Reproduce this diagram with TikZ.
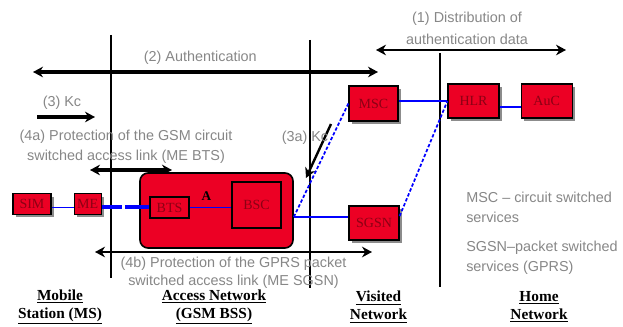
\documentclass[tikz,border=0pt]{standalone}
\usepackage{fontspec}
\setmainfont{Liberation Serif}
\setsansfont{Liberation Sans}
\usepackage{xcolor}
\usepackage{tikz}
\usetikzlibrary{positioning,arrows.meta,shadows,calc}
\definecolor{boxred}{RGB}{236,0,36}
\definecolor{boxtxt}{RGB}{140,0,20}
\definecolor{lblgray}{RGB}{135,135,135}
\definecolor{linkblue}{RGB}{0,0,255}
\tikzset{
  elem/.style={rectangle, draw=black, line width=0.9pt, fill=boxred, text=boxtxt,
    font=\fontsize{10.5}{12}\selectfont, inner sep=0pt},
  selem/.style={elem, drop shadow={shadow xshift=2.2pt, shadow yshift=-2.2pt, fill=black!45, opacity=1}},
  zone/.style={rectangle, rounded corners=6pt, draw=black, line width=1.2pt, fill=boxred, inner sep=0pt},
  lbl/.style={text=lblgray, font=\sffamily\fontsize{10.8}{15}\selectfont, align=center, inner sep=0pt},
  netname/.style={font=\bfseries\fontsize{11.5}{13.5}\selectfont, align=center, inner sep=0pt},
  % connectors
  bwire/.style={draw=linkblue, line width=1.1pt},
  bdash/.style={draw=linkblue, line width=1.3pt, dash pattern=on 2.5pt off 1.5pt},
  divline/.style={draw=black, line width=1.2pt},
  thickarr/.style={draw=black, line width=2.6pt},
  thinarr/.style={draw=black, line width=1.8pt},
}
\begin{document}
\begin{tikzpicture}[x=0.75pt, y=-0.75pt, >={Stealth[length=7.5pt,width=8pt]}]
\path[fill=white, use as bounding box] (0,0) rectangle (623,327);
\coordinate (v1t) at (111,35);  \coordinate (v1b) at (111,278);
\coordinate (v2t) at (310,40);  \coordinate (v2b) at (310,288);
\coordinate (v3t) at (440,53);  \coordinate (v3b) at (440,287);
\draw[divline] (v1t) -- (v1b);
\draw[divline] (v2t) -- (v2b);
\draw[divline, line width=2pt] (v3t) -- (v3b);
\coordinate (distL) at (376,50);  \coordinate (distR) at (566,50);
\coordinate (authL) at (33,72);   \coordinate (authR) at (378,72);
\coordinate (kcL) at (37,117);    \coordinate (kcR) at (95,117);
\coordinate (meL) at (90,170);    \coordinate (meR) at (172,170);
\coordinate (gpL) at (95,252);    \coordinate (gpR) at (372,252);
\coordinate (kcA) at (331,124);   \coordinate (kcB) at (306,178);
\draw[thinarr, <->] (distL) -- (distR)
  node[lbl, midway, above=3pt, xshift=-3pt, text depth=0pt, font=\sffamily\fontsize{10.8}{16.5}\selectfont] (distlbl) {(1) Distribution of\\authentication data};
\draw[thickarr, <->] (authL) -- (authR) node[lbl, pos=0.485, above=4pt] (authlbl) {(2) Authentication};
\draw[thickarr, ->] (kcL) -- (kcR) node[lbl, midway, above=4pt, xshift=-3pt] (kclbl) {(3) Kc};
\draw[thickarr, <->] (meL) -- (meR);
\draw[thinarr, <->] (gpL) -- (gpR)
  node[lbl, midway, below=3pt, text depth=0pt, font=\sffamily\fontsize{10.8}{13.5}\selectfont] (gplbl) {(4b) Protection of the GPRS packet\\switched access link (ME SGSN)};
\draw[thinarr, ->] (kcA) -- (kcB);
\node[lbl] (melbl) at (126,147) {(4a) Protection of the GSM circuit\\switched access link (ME BTS)};
\node[lbl] (kcalbl) at (305,138) {(3a) Kc};
\node[selem, minimum width=28.5pt, minimum height=15.5pt] (sim) at (32,204) {SIM};
\node[selem, minimum width=20.25pt, minimum height=15.5pt, right=16.5pt of sim] (me) {ME};
\node[zone, minimum width=114.75pt, minimum height=56.25pt] (bss) at (216.5,210.5) {};
\node[elem, minimum width=29.25pt, minimum height=15.75pt] (bts) at (169.5,207.5) {BTS};
\node[elem, minimum width=36.75pt, minimum height=34.5pt] (bsc) at (256.5,205) {BSC};
\node[selem, minimum width=36.75pt, minimum height=26.25pt] (msc) at (373.5,103.5) {MSC};
\node[selem, minimum width=37.5pt, minimum height=25.5pt] (sgsn) at (374,223) {SGSN};
\node[selem, minimum width=38.25pt, minimum height=25.5pt] (hlr) at (473.5,101) {HLR};
\node[selem, minimum width=38.25pt, minimum height=25.5pt, right=15.75pt of hlr] (auc) {AuC};
\coordinate (bscport) at ($(bss.east)+(0,6.5)$);
\draw[bwire] (sim.east |- bts) -- (me.west |- bts);
\draw[draw=linkblue, line width=3pt, dash pattern=on 15pt off 2.5pt on 40pt off 1pt] (me.east |- bts) -- (bts.west);
\draw[bwire] (bts.east) -- (bsc.west |- bts)
  node[midway, above=1pt, xshift=-3pt, font=\bfseries\fontsize{10}{12}\selectfont] (alink) {A};
\draw[bwire] (bscport) -- (bscport -| sgsn.west);
\draw[bdash] (bscport) -- (msc.west);
\draw[bwire] (msc.east |- hlr) -- (hlr.west);
\draw[bdash] (sgsn.15) -- (hlr.west);
\draw[bwire] ([yshift=-4.5pt]hlr.east) -- ([yshift=-4.5pt]auc.west);
\node[lbl, align=left, anchor=north west] (mscnote) at (466,192) {MSC \textendash\ circuit switched\\services};
\node[lbl, align=left, anchor=north west] (sgsnnote) at (466,241) {SGSN\textendash packet switched\\services (GPRS)};
\node[netname] (msname) at (60,307) {\underline{Mobile}\\\underline{Station (MS)}};
\node[netname] (anname) at (214,307) {\underline{Access Network}\\\underline{(GSM BSS)}};
\node[netname] (vnname) at (378.5,307) {\underline{Visited}\\\underline{Network}};
\node[netname] (hnname) at (539,307) {\underline{Home}\\\underline{Network}};
\end{tikzpicture}
\end{document}
